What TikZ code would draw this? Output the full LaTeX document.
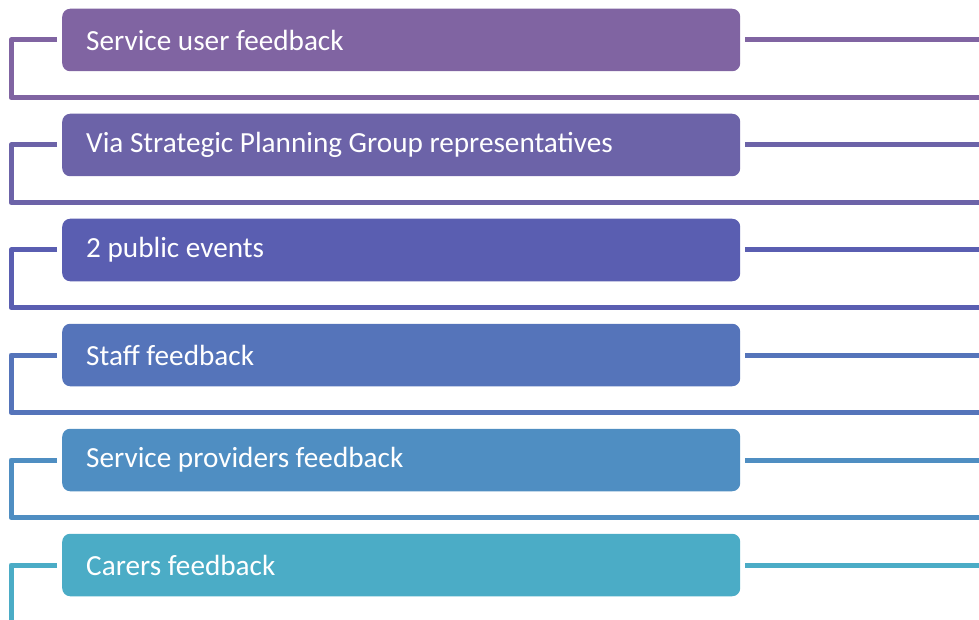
\documentclass[tikz,border=0pt]{standalone}
\usepackage{fontspec}
\setmainfont{Carlito}
\usetikzlibrary{positioning, calc}
\definecolor{row1}{HTML}{8064A2}
\definecolor{row2}{HTML}{6C63A8}
\definecolor{row3}{HTML}{5A5EB1}
\definecolor{row4}{HTML}{5574BA}
\definecolor{row5}{HTML}{4F8EC2}
\definecolor{row6}{HTML}{4BACC6}

\begin{document}
\begin{tikzpicture}[
    x=1pt, y=-1pt,
    item/.style={rectangle, rounded corners=8pt, draw=none, anchor=west,
                 minimum height=62.5pt, text width=630pt, inner xsep=24pt,
                 align=flush left, text=white,
                 font=\fontsize{29.2}{34}\selectfont},
    link/.style={line width=5pt, line join=round},
  ]
    \clip (0,0) rectangle (979,620);

    % ─── rows: box, bracket on the left, line to the right ───
    \foreach \t [count=\i] in {Service user feedback,
        Via Strategic Planning Group representatives,
        2 public events, Staff feedback,
        Service providers feedback, Carers feedback}{
      \pgfmathsetmacro{\yc}{40 + (\i-1)*105}
      \pgfmathsetmacro{\yb}{\yc + 57.5}
      \node[item, fill=row\i] (box\i) at (62, \yc) {\t};
      \coordinate (corner\i) at (11, \yb);
      \coordinate (bend\i) at (979, \yb);
      \coordinate (tail\i) at (979, \yc);
      \draw[link, row\i] ([xshift=-5pt]box\i.west) -| (corner\i) -- (bend\i);
      \draw[link, row\i] ([xshift=5pt]box\i.east) -- (tail\i);
    }
\end{tikzpicture}
\end{document}
